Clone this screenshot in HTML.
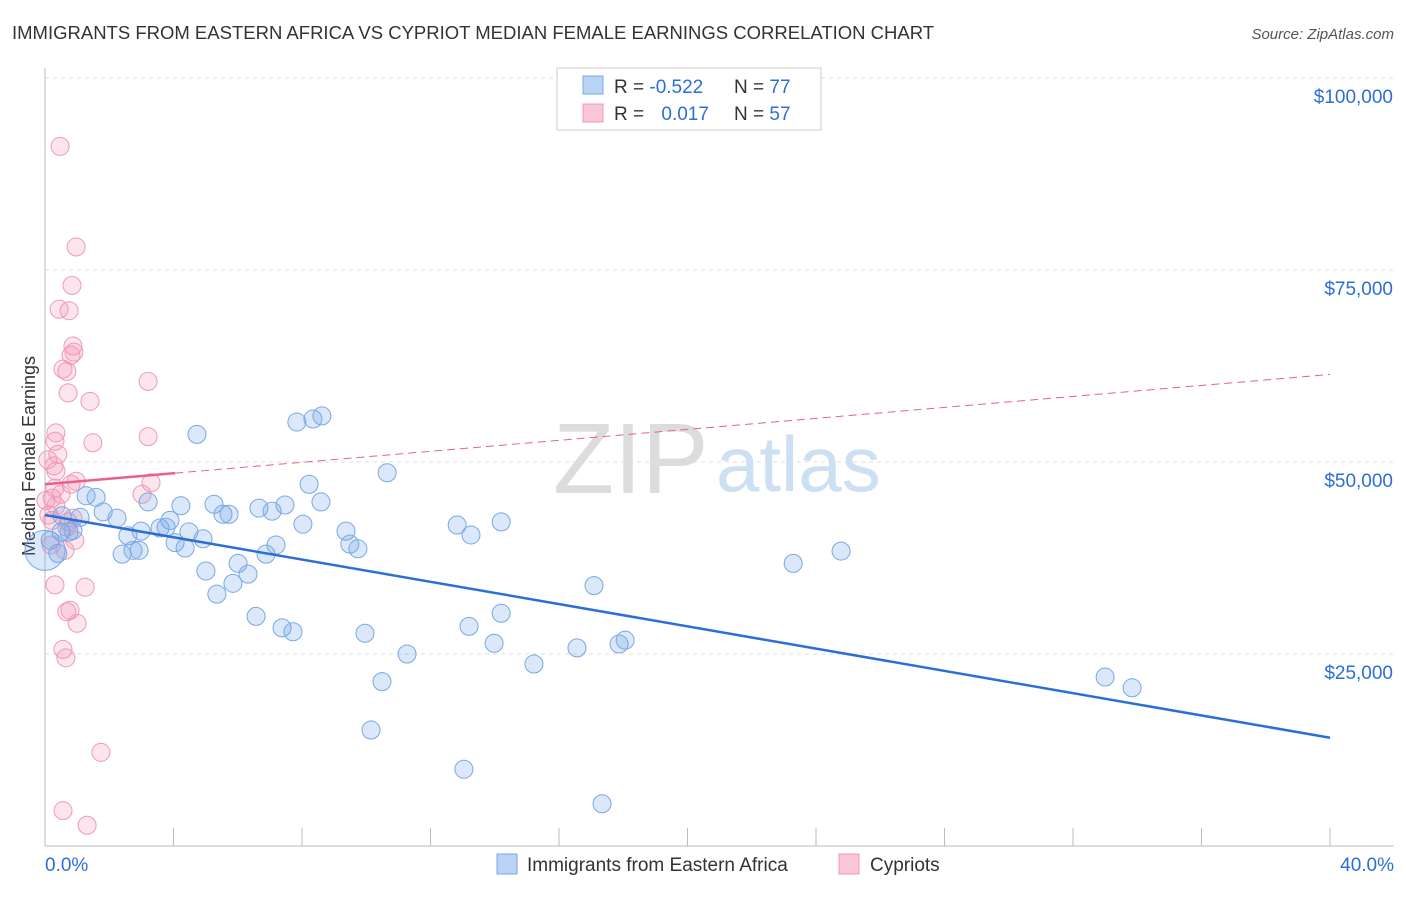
<!DOCTYPE html>
<html><head><meta charset="utf-8"><style>
body{margin:0;background:#fff;font-family:"Liberation Sans",sans-serif;}
svg text{font-family:"Liberation Sans",sans-serif;}
</style></head><body>
<svg id="chart" width="1406" height="892">
<text x="12" y="39" font-size="18.5" fill="#333">IMMIGRANTS FROM EASTERN AFRICA VS CYPRIOT MEDIAN FEMALE EARNINGS CORRELATION CHART</text>
<text x="1394" y="39" font-size="15" fill="#555" font-style="italic" text-anchor="end">Source: ZipAtlas.com</text>
<text x="35" y="456" font-size="18" fill="#333" text-anchor="middle" transform="rotate(-90 35 456)">Median Female Earnings</text>
<text x="553" y="493" font-size="100" fill="#dcdcdc" font-family="Liberation Serif">ZIP</text>
<text x="716" y="491" font-size="78" fill="#cddff2">atlas</text>
<g id="grid"></g><g id="marks"></g>
<g>
<rect x="557" y="68" width="264" height="62" fill="#fff" stroke="#ccc"/>
<rect x="583" y="76" width="20" height="18" fill="#b8d3f3" stroke="#7aa8e6"/>
<rect x="583" y="104" width="20" height="18" fill="#f8c7d6" stroke="#ee9ab5"/>
<text x="614" y="93" font-size="19" fill="#333">R = <tspan fill="#2b6fd6">-0.522</tspan></text>
<text x="734" y="93" font-size="19" fill="#333">N = <tspan fill="#2b6fd6">77</tspan></text>
<text x="614" y="120" font-size="19" fill="#333">R = <tspan fill="#2b6fd6" dx="12">0.017</tspan></text>
<text x="734" y="120" font-size="19" fill="#333">N = <tspan fill="#2b6fd6">57</tspan></text>
</g>
<g>
<rect x="497" y="854" width="20" height="20" fill="#b8d3f3" stroke="#7aa8e6"/>
<text x="527" y="871" font-size="19" fill="#333">Immigrants from Eastern Africa</text>
<rect x="839" y="854" width="20" height="20" fill="#f8c7d6" stroke="#ee9ab5"/>
<text x="870" y="871" font-size="19" fill="#333">Cypriots</text>
</g>
<text x="45" y="871" font-size="19" fill="#2b6fd6">0.0%</text>
<text x="1394" y="871" font-size="19" fill="#2b6fd6" text-anchor="end">40.0%</text>
</svg>
<script>
const yTicks=[25000,50000,75000,100000];
const yTickLabels=["$25,000","$50,000","$75,000","$100,000"];
const xTicks=[0,4,8,12,16,20,24,28,32,36,40];
const blueX=[4.73,7.84,8.34,8.62,10.65,8.22,8.59,1.28,1.59,0.53,1.09,1.81,2.24,4.23,5.26,5.54,5.73,3.21,3.89,3.58,3.77,2.58,2.99,0.50,0.75,0.87,6.66,7.07,7.47,8.03,9.37,9.49,9.74,12.83,13.26,14.20,4.48,4.92,4.05,4.36,2.93,2.40,2.74,7.19,6.88,6.01,5.01,6.32,5.85,5.35,17.09,23.29,24.78,6.57,7.38,7.72,9.96,14.20,13.20,13.98,11.27,15.22,16.56,17.87,18.06,10.49,10.15,13.04,17.34,33.0,33.84,0.16,0.40];
const blueY=[53.6,55.2,55.6,56.0,48.6,47.1,44.8,45.6,45.4,43.0,42.8,43.5,42.7,44.3,44.5,43.2,43.2,44.8,42.4,41.4,41.5,40.4,41.0,40.9,40.9,41.1,44.0,43.6,44.4,41.9,41.0,39.3,38.7,41.8,40.5,42.2,40.9,40.0,39.5,38.8,38.5,38.0,38.5,39.2,38.0,36.8,35.8,35.4,34.2,32.8,33.9,36.8,38.4,29.9,28.4,27.9,27.7,30.3,28.6,26.4,25.0,23.7,25.8,26.3,26.8,21.4,15.1,10.0,5.5,22.0,20.6,39.8,38.1];
const pinkX=[0.47,0.97,0.84,0.44,0.75,0.87,0.81,0.90,0.56,0.68,3.21,0.72,1.40,0.34,0.31,1.49,3.21,0.40,0.28,0.34,3.30,0.97,0.81,3.02,0.31,0.50,0.22,0.34,0.12,0.87,0.72,0.68,0.93,0.19,0.62,0.31,1.25,0.78,0.68,1.00,0.56,0.65,1.74,0.56,1.31,0.03,0.09,0.22];
const pinkY=[91.1,78.0,73.0,69.9,69.7,65.1,63.9,64.3,62.1,61.8,60.5,59.0,57.9,53.8,52.7,52.5,53.3,51.0,49.5,48.8,47.3,47.5,47.1,45.8,46.6,45.8,45.3,44.3,43.1,42.7,42.2,41.5,39.8,39.2,38.5,34.0,33.7,30.7,30.5,29.0,25.6,24.5,12.2,4.6,2.7,45.0,50.3,42.4];
const blueTrend=[43.1,14.1];
const pinkTrend=[47.1,61.4];
const pinkSolidEnd=4.05;
const NS="http://www.w3.org/2000/svg";
const X=v=>45+v/40*1285;
const Y=v=>846-v*0.00768;
function mk(tag,attrs,parent){const e=document.createElementNS(NS,tag);for(const k in attrs)e.setAttribute(k,attrs[k]);parent.appendChild(e);return e;}
const grid=document.getElementById('grid'),marks=document.getElementById('marks');
let ax=mk('line',{x1:45,y1:68,x2:45,y2:846,stroke:'#bbb'},grid);


let bx=mk('line',{x1:45,y1:846,x2:1394,y2:846,stroke:'#bbb'},grid);


yTicks.forEach((t,i)=>{
 let g=mk('line',{x1:45,y1:Y(t),x2:1394,y2:Y(t),stroke:'#ddd','stroke-dasharray':'4,4'},grid);
 
 
 let tx=mk('text',{x:1393,y:Y(t)+25,'font-size':19,fill:'#2b6fd6','text-anchor':'end'},grid);
 tx.textContent=yTickLabels[i];
 
 
});
xTicks.forEach(t=>{
 let l=mk('line',{x1:X(t),y1:828,x2:X(t),y2:846,stroke:'#bbb'},grid);
 
 
});
function dot(x,y,r,fill,stroke,name){
 let c=mk('circle',{cx:X(x),cy:Y(y*1000),r:r,fill:fill,stroke:stroke,'stroke-width':1},marks);
 
 
}
pinkX.forEach((x,i)=>dot(x,pinkY[i],9,'rgba(242,150,180,0.25)','#ef9ab5','cypriot-point'));
blueX.forEach((x,i)=>dot(x,blueY[i],9,'rgba(110,165,232,0.25)','#78a8e4','eastern-africa-point'));
dot(0,38.5,20,'rgba(110,165,232,0.25)','#78a8e4','eastern-africa-point');
let bl=mk('line',{x1:X(0),y1:Y(blueTrend[0]*1000),x2:X(40),y2:Y(blueTrend[1]*1000),stroke:'#2b6fd6','stroke-width':2.5},marks);


const pAt=x=>pinkTrend[0]+(pinkTrend[1]-pinkTrend[0])*x/40;
let pl=mk('line',{x1:X(0),y1:Y(pinkTrend[0]*1000),x2:X(pinkSolidEnd),y2:Y(pAt(pinkSolidEnd)*1000),stroke:'#e8608c','stroke-width':2.5},marks);


let pd=mk('line',{x1:X(pinkSolidEnd),y1:Y(pAt(pinkSolidEnd)*1000),x2:X(40),y2:Y(pinkTrend[1]*1000),stroke:'#e8608c','stroke-width':1,'stroke-dasharray':'8,5'},marks);


</script>
</body></html>
